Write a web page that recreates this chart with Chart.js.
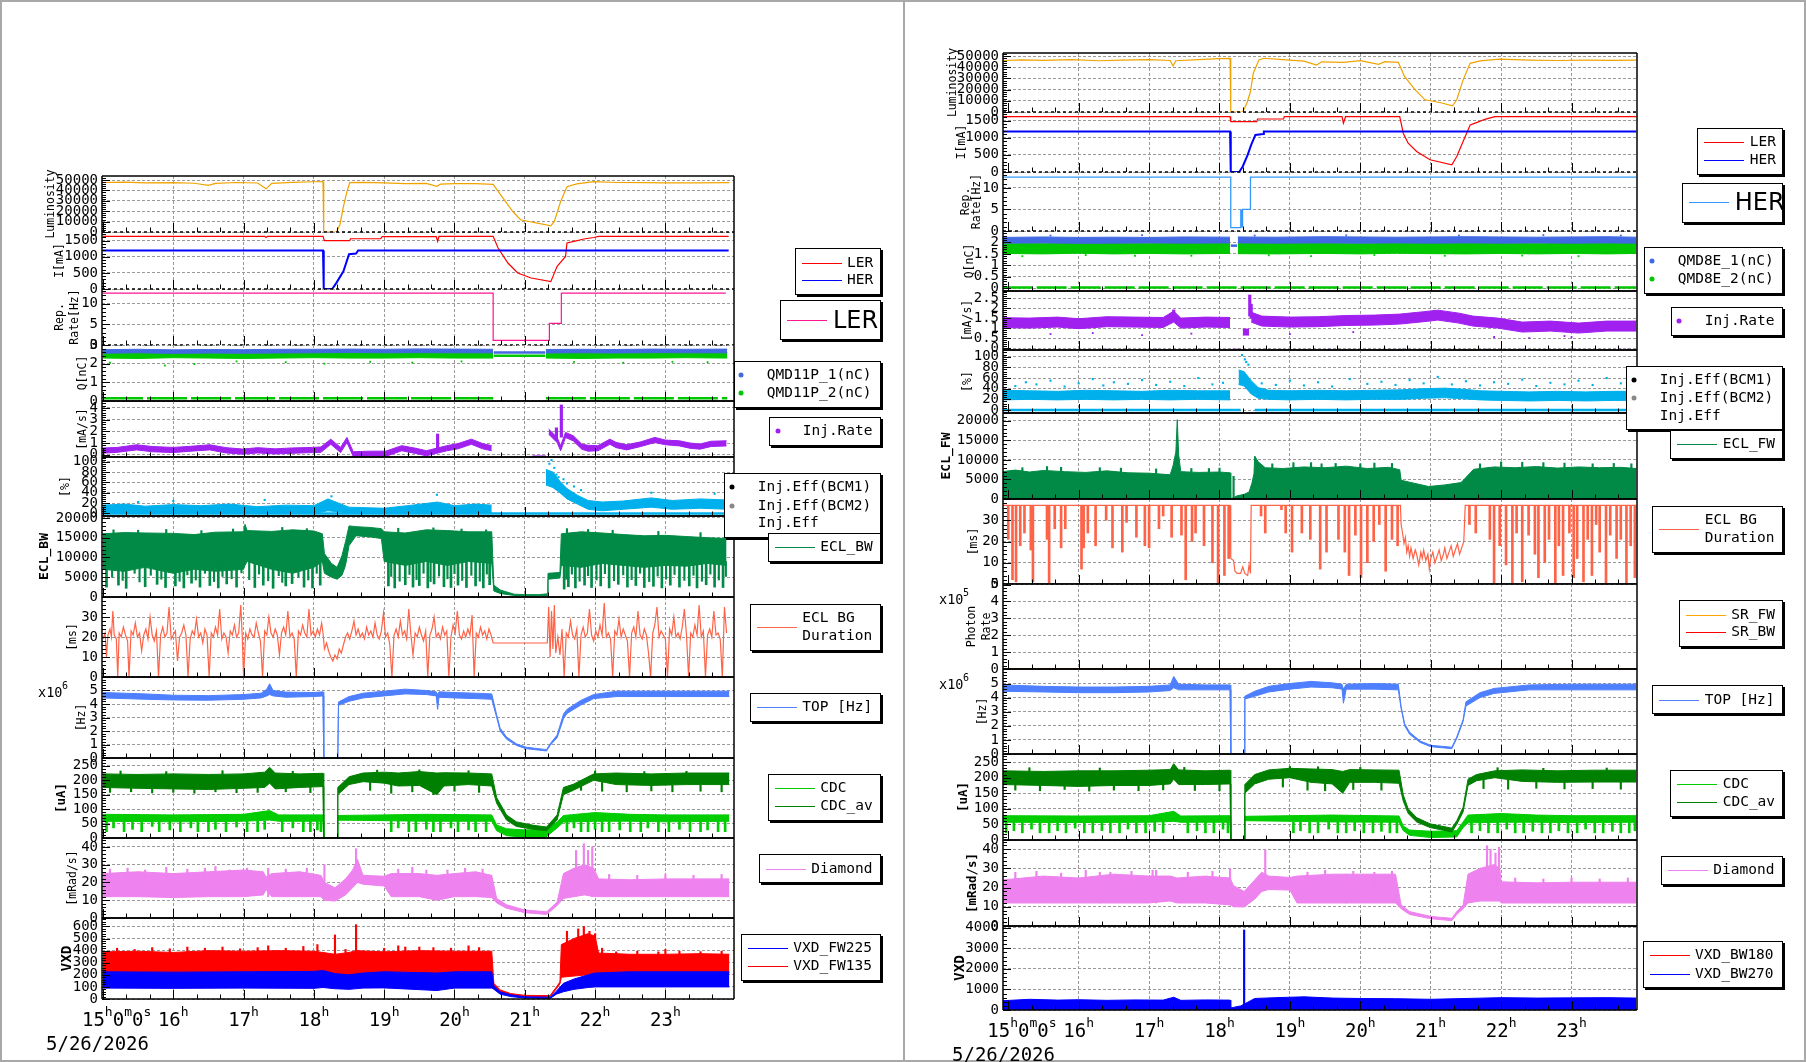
<!DOCTYPE html>
<html>
<head>
<meta charset="utf-8">
<script src="https://cdn.jsdelivr.net/npm/chart.js@4.4.1/dist/chart.umd.min.js"></script>
<style>
  body { margin: 0; background: #fff; width: 1806px; height: 1062px; position: relative; overflow: hidden; font-family: 'DejaVu Sans Mono', monospace; }
  canvas { position: absolute; }
  .frame { position: absolute; border: 2px solid #a8a8a8; box-sizing: border-box; }
  .leg { position: absolute; background: #fff; border: 1px solid #000; box-shadow: 2px 2px 0 #000; box-sizing: border-box; }
  .leg span { position: absolute; font-size: 14.5px; line-height: 1; white-space: pre; transform: translateY(-52%); color: #000; }
  .leg i { position: absolute; height: 1px; }
  .leg b { position: absolute; width: 5px; height: 5px; border-radius: 50%; transform: translate(-50%, -50%); }
</style>
</head>
<body>
<div class="frame" style="left:0;top:0;width:905px;height:1062px"></div>
<div class="frame" style="left:903px;top:0;width:903px;height:1062px"></div>
<script>
// ---------------- data (hours, values) ----------------
const hourGrid = [16, 17, 18, 19, 20, 21, 22, 23];
const hourTicks = [15, 16, 17, 18, 19, 20, 21, 22, 23];
const dateLabel = '5/26/2026';

// ===== left column (LER) =====
const lumL = [[15.0,47600],[15.3,47900],[15.6,47200],[16.0,47400],[16.3,46900],[16.5,44900],[16.6,46800],[16.9,47600],[17.2,47100],[17.32,41500],[17.4,46800],[17.7,47800],[18.0,48300],[18.13,48400],[18.14,0],[18.32,0],[18.37,7000],[18.42,24500],[18.47,38800],[18.51,47400],[18.7,47800],[19.0,47300],[19.3,46500],[19.6,46800],[19.75,44000],[19.8,46000],[20.0,46500],[20.3,46600],[20.55,45800],[20.69,32500],[20.83,19700],[20.94,11800],[21.06,10100],[21.18,8600],[21.37,6000],[21.42,10100],[21.51,29300],[21.6,43600],[21.74,46200],[21.98,48400],[22.3,47600],[22.7,47500],[23.0,47300],[23.4,47200],[23.91,47400]];
const lerL = [[15.0,1634],[17.3,1634],[17.32,1600],[17.34,1634],[18.13,1634],[18.15,1500],[18.51,1500],[18.52,1560],[18.95,1560],[18.97,1628],[19.74,1628],[19.76,1480],[19.78,1634],[20.55,1634],[20.62,1273],[20.76,807],[20.9,497],[21.09,342],[21.37,227],[21.46,702],[21.58,1012],[21.6,1428],[21.7,1480],[21.84,1553],[21.98,1600],[22.05,1634],[23.9,1634]];
const herL = [[15.0,1195],[18.13,1195],[18.14,0],[18.26,0],[18.32,190],[18.42,550],[18.5,1080],[18.6,1100],[18.63,1195],[23.9,1195]];
const repLER = [[15.0,12.5],[20.55,12.5],[20.55,1.1],[21.35,1.1],[21.35,5.2],[21.52,5.2],[21.52,12.5],[23.86,12.5]];
const q1L = [[15.0,2.56,2.75],[15.5,2.58,2.77],[16.0,2.55,2.74],[16.5,2.57,2.76],[17.0,2.56,2.75],[17.5,2.57,2.77],[18.0,2.58,2.77],[18.5,2.6,2.78],[19.0,2.58,2.77],[19.5,2.59,2.79],[20.0,2.58,2.78],[20.55,2.58,2.77],[20.56,null,null],[21.3,2.57,2.76],[21.8,2.58,2.77],[22.3,2.57,2.76],[22.8,2.59,2.78],[23.3,2.58,2.77],[23.88,2.58,2.78]];
const q2L = [[15.0,2.3,2.58],[15.5,2.28,2.6],[16.0,2.32,2.58],[16.5,2.3,2.6],[17.0,2.28,2.58],[17.5,2.3,2.6],[18.0,2.32,2.6],[18.5,2.3,2.62],[19.0,2.3,2.6],[19.5,2.32,2.62],[20.0,2.3,2.6],[20.55,2.3,2.6],[20.56,null,null],[21.3,2.3,2.6],[21.8,2.28,2.6],[22.3,2.3,2.58],[22.8,2.3,2.6],[23.3,2.32,2.6],[23.88,2.3,2.6]];
const q1Lflat = [[20.56,2.6],[21.29,2.6]];
const q2Lflat = [[20.56,2.42],[21.29,2.42]];
const q2Lout = [[15.1,2.05],[15.88,1.9],[16.3,1.98],[16.9,2.12],[17.6,2.08],[18.15,2.0],[18.8,2.1],[19.4,2.06],[20.1,2.12],[21.7,2.1],[22.4,2.05],[23.1,2.1],[23.6,2.08]];
const q2Llow = [[15.0,0.15],[20.55,0.15],[20.56,null],[21.3,0.15],[23.88,0.15]];
const rateL = [[15.0,0.13,0.57],[15.2,0.2,0.62],[15.48,0.41,0.85],[15.7,0.25,0.7],[16.0,0.18,0.62],[16.25,0.3,0.72],[16.52,0.41,0.85],[16.75,0.15,0.6],[16.99,0.04,0.48],[17.2,0.15,0.6],[17.45,0.06,0.5],[17.7,0.12,0.58],[17.98,0.18,0.62],[18.1,0.2,0.66],[18.24,0.89,1.33],[18.38,0.18,0.62],[18.47,1.04,1.48],[18.56,-0.15,0.25],[18.8,-0.15,0.3],[19.02,-0.15,0.3],[19.25,0.33,0.77],[19.45,0.1,0.55],[19.6,-0.1,0.34],[19.89,0.33,0.77],[20.05,0.5,0.95],[20.24,0.89,1.33],[20.4,0.5,0.95],[20.53,0.33,0.77],[20.54,null,null],[21.34,1.75,2.19],[21.46,1.04,1.48],[21.51,0.33,0.77],[21.58,1.47,1.91],[21.69,1.18,1.62],[21.81,0.47,0.91],[21.9,0.3,0.8],[22.04,0.33,0.77],[22.21,0.89,1.33],[22.3,0.6,1.05],[22.45,0.41,0.85],[22.65,0.7,1.1],[22.85,1.04,1.48],[23.0,0.85,1.25],[23.2,0.75,1.19],[23.35,0.55,1.0],[23.49,0.47,0.91],[23.65,0.7,1.15],[23.87,0.75,1.19]];
const rateLgap = [[21.11,-0.15],[21.3,-0.15]];
const rateLspk = [[19.76,0.5,1.77],[21.52,1.5,4.26],[21.45,1.2,2.3]];
const effL = [[15.0,0,16],[15.3,1,18],[15.6,0,14],[16.0,1,17],[16.4,0,15],[16.8,1,18],[17.2,0,13],[17.6,1,16],[18.0,0,15],[18.2,5,28],[18.35,3,20],[18.5,0,12],[19.0,0,10],[19.4,1,16],[19.76,2,22],[20.0,1,15],[20.3,2,18],[20.53,1,16],[20.54,null,null],[21.3,55,85],[21.4,50,80],[21.5,40,62],[21.6,28,48],[21.75,18,35],[21.9,8,25],[22.1,5,22],[22.4,8,24],[22.8,12,30],[23.1,8,25],[23.5,10,28],[23.88,8,26]];
const effLout = [[21.35,96],[21.38,103],[21.42,88],[21.45,75],[21.48,70],[21.55,66],[21.6,58],[21.7,52],[21.8,45],[19.75,36],[18.25,33],[22.8,40],[23.7,38],[16.0,24],[17.3,26],[15.5,22]];
const effLbase = [[15.0,0],[23.88,0]];
const eclBW = [[15.0,7000,16000],[15.3,6500,16300],[15.6,7500,16200],[16.0,6000,16100],[16.3,7000,15800],[16.6,6500,16400],[17.0,7000,16500],[17.02,8000,18400],[17.05,9000,16800],[17.4,7000,16600],[17.7,6000,17000],[18.0,7500,16700],[18.12,9000,16000],[18.15,6000,11000],[18.25,5000,8500],[18.33,4500,7500],[18.4,5500,10500],[18.45,8000,14000],[18.5,13000,18000],[18.6,15500,17800],[18.8,15200,17600],[18.96,14800,17300],[19.0,9000,16500],[19.3,8000,16200],[19.6,9000,17000],[19.9,8000,16800],[20.2,9000,16500],[20.53,8500,16500],[20.56,1500,3000],[20.65,900,1800],[20.72,700,1400],[20.85,400,700],[21.0,300,600],[21.2,300,600],[21.32,400,800],[21.33,4500,6000],[21.5,4800,6200],[21.52,8000,16000],[21.8,7500,16500],[22.1,8500,16200],[22.4,8000,15800],[22.7,7500,15500],[23.0,8000,15600],[23.3,7800,15300],[23.6,8500,15000],[23.87,8000,14800]];
const eclBWspk = [[15.05,2500,9000],[15.22,3000,9000],[15.33,2200,9000],[15.6,2600,9000],[15.77,3200,9000],[15.89,2400,9000],[16.03,2800,9000],[16.15,2300,9000],[16.26,3500,9000],[16.38,2500,9000],[16.52,2900,9000],[16.64,2300,9000],[16.76,3300,9000],[16.9,2500,9000],[17.16,2400,9000],[17.28,3000,9000],[17.42,2200,9000],[17.6,2800,9000],[17.69,3400,9000],[17.86,2500,9000],[17.98,2300,9000],[18.09,3000,9000],[19.06,2800,9000],[19.15,2300,9000],[19.3,3100,9000],[19.41,2500,9000],[19.5,2900,9000],[19.62,2300,9000],[19.71,3300,9000],[19.85,2600,9000],[19.95,2400,9000],[20.05,3000,9000],[20.17,2400,9000],[20.3,2800,9000],[20.41,2300,9000],[20.5,3100,9000],[21.56,2000,9000],[21.62,2600,9000],[21.72,2300,9000],[21.85,3000,9000],[21.95,2400,9000],[22.08,2800,9000],[22.2,2300,9000],[22.33,3200,9000],[22.46,2500,9000],[22.58,2900,9000],[22.7,2400,9000],[22.83,2700,9000],[22.95,2300,9000],[23.07,3000,9000],[23.2,2500,9000],[23.34,2800,9000],[23.45,2300,9000],[23.58,3100,9000],[23.7,2500,9000],[23.82,2400,9000]];
const eclBWmid = [[15.13,5000,9000],[15.28,4200,9000],[15.45,6000,9000],[15.52,3800,9000],[15.68,5500,9000],[15.83,4500,9000],[15.95,6200,9000],[16.09,4000,9000],[16.2,5600,9000],[16.32,4300,9000],[16.45,6000,9000],[16.58,3900,9000],[16.7,5200,9000],[16.83,4600,9000],[16.97,6100,9000],[17.08,4400,9000],[17.22,5800,9000],[17.35,4100,9000],[17.5,5400,9000],[17.55,3700,9000],[17.78,5000,9000],[17.92,4300,9000],[18.04,6000,9000],[19.1,5200,9000],[19.22,4000,9000],[19.36,5700,9000],[19.46,4400,9000],[19.56,6000,9000],[19.66,3900,9000],[19.78,5300,9000],[19.9,4600,9000],[20.0,5900,9000],[20.11,4200,9000],[20.24,5500,9000],[20.36,4000,9000],[20.46,5800,9000],[21.59,4500,9000],[21.67,5800,9000],[21.78,4000,9000],[21.9,5400,9000],[22.02,4300,9000],[22.14,5900,9000],[22.27,4100,9000],[22.4,5600,9000],[22.52,4400,9000],[22.64,6000,9000],[22.77,3900,9000],[22.89,5300,9000],[23.01,4500,9000],[23.13,5700,9000],[23.27,4200,9000],[23.4,5500,9000],[23.52,4000,9000],[23.64,5800,9000],[23.76,4300,9000],[23.86,5200,9000]];
const eclBWtop = [[15.15,15000,17000],[15.5,15000,16900],[15.9,15000,17100],[16.4,15000,16800],[16.85,15000,17200],[17.55,15000,17600],[17.9,15000,17300],[19.2,15000,17400],[19.7,15000,17500],[20.1,15000,17200],[20.45,15000,17000],[21.6,15000,17300],[21.9,15000,17100],[22.25,15000,16900],[22.9,15000,16600],[23.5,15000,16300]];
const durL = [[15.0,19],[15.03,22],[15.05,10],[15.07,21],[15.1,24],[15.12,20],[15.14,33],[15.16,21],[15.19,19],[15.21,0],[15.23,22],[15.26,20],[15.29,25],[15.32,21],[15.35,18],[15.37,0],[15.4,23],[15.43,21],[15.46,27],[15.49,20],[15.52,22],[15.55,13],[15.58,21],[15.61,24],[15.64,19],[15.67,30],[15.7,21],[15.73,18],[15.76,23],[15.79,0],[15.82,21],[15.85,25],[15.88,20],[15.91,22],[15.94,35],[15.97,19],[16.0,21],[16.03,23],[16.06,8],[16.09,20],[16.12,22],[16.15,26],[16.18,21],[16.21,0],[16.24,19],[16.27,23],[16.3,21],[16.33,29],[16.36,20],[16.39,22],[16.42,17],[16.45,24],[16.48,21],[16.51,0],[16.54,22],[16.57,20],[16.6,25],[16.63,21],[16.66,34],[16.69,19],[16.72,22],[16.75,20],[16.78,12],[16.81,23],[16.84,21],[16.87,26],[16.9,20],[16.93,22],[16.96,36],[16.98,21],[17.0,0],[17.03,22],[17.06,19],[17.09,24],[17.12,21],[17.15,20],[17.18,27],[17.21,22],[17.24,18],[17.27,0],[17.3,23],[17.33,21],[17.36,30],[17.39,22],[17.42,20],[17.45,24],[17.48,21],[17.51,11],[17.54,22],[17.57,25],[17.6,21],[17.63,33],[17.66,20],[17.69,22],[17.72,19],[17.75,0],[17.78,23],[17.81,21],[17.84,26],[17.87,22],[17.9,20],[17.93,34],[17.96,21],[17.99,23],[18.02,20],[18.05,24],[18.08,21],[18.11,27],[18.13,22],[18.15,14],[18.18,17],[18.21,13],[18.24,10],[18.27,8],[18.3,11],[18.33,9],[18.36,14],[18.39,12],[18.42,16],[18.45,20],[18.48,22],[18.51,19],[18.54,23],[18.57,28],[18.6,21],[18.63,24],[18.66,20],[18.69,22],[18.72,19],[18.75,25],[18.78,21],[18.81,23],[18.84,20],[18.87,27],[18.9,21],[18.93,19],[18.96,23],[18.99,32],[19.02,20],[19.05,22],[19.08,16],[19.11,0],[19.14,21],[19.17,24],[19.2,20],[19.23,28],[19.26,21],[19.29,23],[19.32,19],[19.35,34],[19.38,21],[19.41,11],[19.44,22],[19.47,20],[19.5,25],[19.53,21],[19.56,18],[19.59,23],[19.62,0],[19.65,21],[19.68,24],[19.71,30],[19.74,20],[19.77,22],[19.8,19],[19.83,25],[19.86,21],[19.89,23],[19.92,0],[19.95,20],[19.98,26],[20.01,22],[20.04,33],[20.07,21],[20.1,19],[20.13,23],[20.16,20],[20.19,24],[20.22,21],[20.25,31],[20.28,0],[20.31,22],[20.34,20],[20.37,25],[20.4,21],[20.43,23],[20.46,19],[20.49,24],[20.52,21],[20.55,17],[21.32,17],[21.34,35],[21.36,10],[21.38,33],[21.4,14],[21.42,36],[21.44,12],[21.47,20],[21.5,11],[21.53,24],[21.56,0],[21.59,22],[21.62,20],[21.65,28],[21.68,21],[21.71,19],[21.74,24],[21.77,0],[21.8,21],[21.83,25],[21.86,20],[21.89,22],[21.92,34],[21.95,21],[21.98,18],[22.01,23],[22.04,20],[22.07,26],[22.1,21],[22.13,37],[22.16,20],[22.19,22],[22.22,19],[22.25,0],[22.28,23],[22.31,21],[22.34,29],[22.37,20],[22.4,24],[22.43,21],[22.46,18],[22.49,0],[22.52,22],[22.55,25],[22.58,20],[22.61,33],[22.64,21],[22.67,19],[22.7,24],[22.73,21],[22.76,12],[22.79,0],[22.82,22],[22.85,26],[22.88,35],[22.91,20],[22.94,23],[22.97,21],[23.0,19],[23.03,0],[23.06,24],[23.09,21],[23.12,30],[23.15,20],[23.18,22],[23.21,19],[23.24,25],[23.27,34],[23.3,21],[23.33,0],[23.36,22],[23.39,20],[23.42,26],[23.45,21],[23.48,36],[23.51,20],[23.54,23],[23.57,0],[23.6,21],[23.63,24],[23.66,20],[23.69,33],[23.72,21],[23.75,22],[23.78,19],[23.81,0],[23.84,35],[23.87,22]];
const topL = [[15.0,4.45,4.85],[15.3,4.4,4.8],[15.6,4.35,4.75],[16.0,4.3,4.65],[16.5,4.28,4.62],[17.0,4.35,4.7],[17.25,4.45,4.8],[17.33,4.6,5.1],[17.37,4.7,5.5],[17.42,4.6,5.0],[17.6,4.5,4.88],[18.0,4.55,4.85],[18.13,4.6,4.9],[18.14,0,0],[18.34,0,0],[18.35,3.9,4.15],[18.5,4.2,4.55],[18.7,4.45,4.8],[19.0,4.6,4.95],[19.3,4.75,5.1],[19.6,4.7,5.0],[19.74,4.6,4.9],[19.76,3.6,4.7],[19.78,4.5,4.9],[20.0,4.45,4.85],[20.3,4.4,4.8],[20.53,4.35,4.75],[20.6,3.0,3.2],[20.65,2.0,2.2],[20.74,1.4,1.56],[20.88,0.93,1.05],[21.02,0.69,0.8],[21.31,0.52,0.62],[21.36,0.93,1.05],[21.46,1.5,1.7],[21.55,2.9,3.25],[21.6,3.3,3.6],[21.79,3.9,4.25],[21.98,4.4,4.7],[22.31,4.55,4.95],[23.02,4.55,4.95],[23.91,4.55,4.95]];
const cdcAvL = [[15.0,175,222],[15.5,172,220],[16.0,170,222],[16.5,168,220],[17.0,172,222],[17.3,175,228],[17.37,190,245],[17.45,170,225],[17.8,175,222],[18.13,178,224],[18.14,0,0],[18.33,0,0],[18.34,150,175],[18.5,185,212],[18.7,195,225],[19.0,190,228],[19.2,180,225],[19.5,182,230],[19.75,150,225],[19.85,180,226],[20.2,185,225],[20.53,180,222],[20.6,120,140],[20.74,62,80],[20.88,40,56],[21.12,30,44],[21.31,25,38],[21.46,62,80],[21.55,150,175],[21.69,165,186],[21.98,200,222],[22.3,185,225],[22.8,182,222],[23.3,185,225],[23.91,185,225]];
const cdcAvLspk = [[15.1,158,190],[15.4,160,190],[15.7,156,190],[16.0,158,190],[16.3,155,190],[16.6,160,190],[16.9,157,190],[17.2,158,190],[17.6,160,190],[17.95,157,190],[18.8,165,200],[19.1,155,195],[19.4,160,195],[19.7,150,195],[20.0,162,195],[20.35,158,195],[21.8,165,195],[22.1,162,195],[22.45,160,195],[22.8,163,195],[23.1,160,195],[23.5,162,195],[23.8,160,195],[15.25,210,232],[15.9,210,230],[16.7,210,233],[17.7,210,231],[18.9,210,235],[19.5,210,236],[20.2,210,233],[22.0,210,232],[22.7,210,230],[23.3,210,231]];
const cdcL = [[15.0,58,82],[16.0,56,80],[17.0,58,82],[17.37,62,95],[17.5,58,80],[18.13,58,80],[18.14,0,0],[18.33,0,0],[18.34,62,78],[19.0,60,80],[19.6,58,82],[20.53,58,80],[20.6,25,45],[20.74,8,32],[21.0,3,28],[21.3,3,30],[21.46,35,55],[21.55,55,78],[22.0,58,88],[22.5,58,82],[23.0,56,80],[23.91,58,80]];
const cdcLspk = [[15.05,22,58],[15.15,35,58],[15.3,22,58],[15.42,30,58],[15.55,22,58],[15.7,40,58],[15.8,22,58],[15.95,28,58],[16.1,22,58],[16.25,35,58],[16.35,22,58],[16.5,22,58],[16.6,30,58],[16.75,22,58],[16.9,38,58],[17.05,22,58],[17.2,22,58],[17.3,30,58],[17.55,22,58],[17.7,35,58],[17.85,22,58],[17.95,22,58],[18.05,28,58],[18.1,22,58],[19.1,22,58],[19.2,35,58],[19.35,22,58],[19.45,22,58],[19.6,30,58],[19.7,22,58],[19.8,22,58],[19.95,35,58],[20.05,22,58],[20.2,28,58],[20.3,22,58],[20.45,22,58],[21.6,22,58],[21.7,35,58],[21.8,22,58],[21.9,22,58],[22.0,30,58],[22.1,22,58],[22.2,22,58],[22.35,28,58],[22.5,22,58],[22.65,22,58],[22.75,35,58],[22.9,22,58],[23.05,22,58],[23.2,30,58],[23.35,22,58],[23.5,22,58],[23.6,28,58],[23.75,22,58],[23.85,22,58]];
const diaL = [[15.0,12,25],[15.5,12,26],[16.0,11.5,25],[16.5,12,26],[17.0,12,27],[17.28,13,26],[17.32,16,23],[17.4,12,25],[17.8,12,26],[18.1,12,24],[18.15,10,20],[18.3,9.5,17],[18.45,13,22],[18.55,17,27],[18.62,20,33],[18.7,19,24],[19.0,18,23.5],[19.1,12,25],[19.5,12,25],[19.75,10,24],[20.0,12,25],[20.3,12,26],[20.53,11.5,24],[20.6,8.5,11],[20.74,5.5,7.5],[21.0,3,4.5],[21.31,2,3.5],[21.46,7,9],[21.55,11,25],[21.7,12,28],[21.85,13,30],[21.98,12,28],[22.05,12,22],[22.5,12,21.5],[23.0,12,22],[23.91,12,22]];
const diaLspk = [[18.6,20,39],[21.73,20,38],[21.84,20,41.8],[21.9,20,38],[21.96,20,40],[18.15,12,30],[17.35,12,28],[16.45,12,28],[19.6,12,27],[15.1,20,27.5],[15.35,20,28],[15.6,20,27],[15.9,20,28.5],[16.2,20,27.5],[16.6,20,29],[16.8,20,27],[17.05,20,28],[17.6,20,27.5],[17.9,20,28],[19.2,20,27.5],[19.4,20,28.5],[19.9,20,27],[20.15,20,28],[20.4,20,27.5],[22.2,18,24.5],[22.6,18,24],[23.0,18,24.5],[23.4,18,24],[23.8,18,24.5]];
const vxdRL = [[15.0,200,390],[15.5,200,395],[16.0,200,385],[16.5,200,400],[17.0,200,395],[17.5,200,400],[18.0,200,395],[18.13,205,385],[18.3,180,370],[18.5,175,385],[18.6,200,400],[19.0,205,390],[19.5,205,400],[20.0,200,395],[20.53,200,395],[20.56,110,130],[20.65,60,75],[20.8,35,45],[21.0,22,30],[21.36,20,28],[21.45,85,100],[21.5,125,140],[21.52,180,450],[21.7,190,500],[21.9,200,540],[22.0,210,520],[22.05,215,380],[22.5,215,370],[23.0,215,370],[23.5,215,375],[23.91,215,370]];
const vxdRLspk = [[16.2,300,430],[17.35,300,440],[18.05,300,450],[18.3,300,530],[18.6,300,615],[19.2,300,440],[19.5,300,430],[20.2,300,440],[21.6,300,560],[21.76,300,580],[21.84,300,600],[21.92,300,560],[22.0,300,540],[22.1,300,420],[23.0,300,410],[15.2,300,420],[15.45,300,410],[15.7,300,425],[15.95,300,415],[16.45,300,420],[16.7,300,430],[16.95,300,415],[17.2,300,425],[17.6,300,420],[17.85,300,435],[18.45,300,410],[19.0,300,420],[19.3,300,430],[19.7,300,425],[19.95,300,420],[20.35,300,425],[22.3,300,390],[22.6,300,395],[22.9,300,390],[23.2,300,395],[23.5,300,392],[23.8,300,395]];
const vxdBL = [[15.0,90,225],[16.0,88,222],[17.0,90,225],[18.0,88,228],[18.13,95,235],[18.3,85,210],[18.5,80,200],[18.7,90,215],[19.0,92,225],[19.75,70,215],[20.0,90,225],[20.53,90,225],[20.56,80,110],[20.65,40,60],[20.8,20,35],[21.0,8,18],[21.36,5,15],[21.45,40,65],[21.55,60,130],[21.7,80,165],[21.9,95,200],[22.0,100,215],[22.5,100,225],[23.0,100,225],[23.91,100,225]];

// ===== right column (HER) =====
const lumR = [[14.92,46000],[15.2,46500],[15.5,46200],[15.9,46800],[16.3,45800],[16.6,46300],[17.0,46800],[17.3,46000],[17.34,41100],[17.38,45800],[17.7,46800],[18.0,47700],[18.15,47900],[18.16,0],[18.33,0],[18.39,8000],[18.44,18300],[18.48,34600],[18.56,46400],[18.63,48000],[18.9,46800],[19.2,45500],[19.38,42000],[19.45,44800],[19.76,44300],[20.0,45800],[20.26,42600],[20.35,45000],[20.54,44300],[20.63,31600],[20.78,19800],[20.92,10900],[21.13,8500],[21.31,5600],[21.37,10900],[21.46,28700],[21.56,43500],[21.7,45600],[21.98,47300],[22.4,46400],[22.8,46000],[23.2,46300],[23.6,46100],[23.92,46300]];
const lerR = [[14.92,1613],[18.15,1613],[18.16,1468],[18.53,1468],[18.54,1546],[18.91,1546],[18.92,1613],[19.74,1613],[19.76,1421],[19.79,1613],[20.56,1613],[20.61,1131],[20.68,841],[20.8,598],[20.99,357],[21.3,212],[21.37,453],[21.46,888],[21.53,1227],[21.56,1372],[21.65,1441],[21.77,1537],[21.91,1613],[23.92,1613]];
const herR = [[14.92,1178],[18.15,1178],[18.16,0],[18.28,0],[18.33,162],[18.4,502],[18.45,792],[18.51,1082],[18.62,1111],[18.63,1178],[23.92,1178]];
const repHER = [[14.92,12.5],[18.16,12.5],[18.16,0.8],[18.3,0.8],[18.3,5],[18.305,0.8],[18.31,5],[18.315,0.8],[18.32,5],[18.325,0.8],[18.33,5],[18.44,5],[18.44,12.5],[23.92,12.5]];
const q1R = [[14.92,1.97,2.22],[15.5,1.98,2.24],[16.0,1.96,2.22],[16.5,1.97,2.23],[17.0,1.98,2.22],[17.5,1.97,2.24],[18.15,1.98,2.23],[18.16,null,null],[18.26,1.98,2.24],[18.8,1.97,2.23],[19.5,1.98,2.25],[20.0,1.97,2.24],[20.5,1.98,2.23],[21.0,1.97,2.24],[21.5,1.98,2.25],[22.0,1.97,2.24],[22.5,1.98,2.23],[23.0,1.97,2.24],[23.5,1.98,2.25],[23.92,1.97,2.23]];
const q2R = [[14.92,1.52,1.98],[15.5,1.5,1.97],[16.0,1.53,1.99],[16.5,1.5,1.98],[17.0,1.52,1.97],[17.5,1.5,1.99],[18.15,1.52,1.98],[18.16,null,null],[18.26,1.51,1.98],[18.8,1.5,1.99],[19.5,1.52,1.98],[20.0,1.5,1.97],[20.5,1.53,1.99],[21.0,1.51,1.98],[21.5,1.5,1.99],[22.0,1.52,1.98],[22.5,1.5,1.97],[23.0,1.52,1.99],[23.5,1.5,1.98],[23.92,1.52,1.98]];
const q1Rflat = [[18.16,1.86],[18.25,1.86]];
const q2Rout = [[15.2,1.4],[16.1,1.45],[16.8,1.42],[17.6,1.42],[18.7,1.44],[19.3,1.4],[20.2,1.45],[21.2,1.42],[22.3,1.43],[23.1,1.4]];
const q1Rout = [[15.6,2.3],[16.9,2.32],[18.5,2.3],[19.8,2.31],[21.4,2.3],[22.6,2.32],[23.7,2.3]];
const q2Rlow = [[14.92,0.03],[23.92,0.03]];
const rateR = [[14.92,1.02,1.52],[15.3,1.0,1.5],[15.7,1.05,1.55],[16.0,0.97,1.47],[16.4,1.07,1.57],[16.8,1.05,1.55],[17.2,1.03,1.53],[17.35,1.3,1.85],[17.45,1.0,1.5],[17.8,1.05,1.55],[18.15,1.03,1.53],[18.16,null,null],[18.33,0.65,0.95],[18.42,0.65,0.95],[18.43,null,null],[18.45,1.3,1.8],[18.6,1.1,1.6],[19.0,1.05,1.55],[19.4,1.07,1.57],[19.8,1.13,1.63],[20.2,1.15,1.65],[20.56,1.2,1.7],[20.9,1.32,1.82],[21.1,1.4,1.9],[21.4,1.25,1.75],[21.6,1.1,1.6],[21.95,1.0,1.5],[22.3,0.8,1.3],[22.7,0.85,1.35],[23.1,0.75,1.25],[23.5,0.85,1.35],[23.92,0.85,1.35]];
const rateRspk = [[18.43,1.6,2.66],[18.45,1.5,2.2],[17.35,1.4,1.91]];
const rateRout = [[15.6,0.7],[16.2,0.75],[16.9,0.65],[17.6,0.72],[19.0,0.7],[19.9,0.8],[21.9,0.55],[22.4,0.5],[23.0,0.55],[22.9,0.6],[18.2,-0.08],[18.25,-0.08],[18.28,-0.08],[17.1,-0.08],[19.55,-0.08],[20.6,-0.08],[21.8,-0.08],[22.3,-0.08],[23.7,-0.08],[23.8,-0.08],[16.4,-0.08]];
const effR = [[14.92,19,37],[15.3,20,36],[15.7,19,35],[16.1,20,37],[16.5,19,36],[16.9,20,35],[17.3,19,37],[17.7,20,36],[18.15,19,36],[18.16,null,null],[18.27,48,75],[18.35,45,72],[18.45,30,55],[18.55,22,42],[18.7,20,37],[19.0,19,36],[19.4,20,37],[19.8,19,36],[20.2,20,37],[20.6,20,38],[20.9,22,40],[21.2,23,41],[21.46,21,39],[21.7,19,36],[22.0,18,35],[22.4,17,34],[22.8,18,35],[23.2,17,34],[23.6,18,35],[23.92,18,35]];
const effRout = [[15.1,45],[15.25,52],[15.4,48],[15.6,55],[15.8,44],[16.0,50],[16.2,58],[16.35,46],[16.5,52],[16.7,49],[16.9,56],[17.1,47],[17.3,53],[17.5,45],[17.7,60],[17.9,48],[18.05,51],[18.32,103],[18.36,95],[18.38,90],[18.41,85],[18.6,50],[18.8,47],[19.0,55],[19.2,46],[19.4,52],[19.6,44],[19.85,58],[20.1,49],[20.3,53],[20.5,47],[20.7,56],[20.9,50],[21.1,62],[21.3,48],[21.5,54],[21.7,46],[21.9,52],[22.1,49],[22.3,57],[22.5,45],[22.7,51],[22.9,48],[23.1,55],[23.3,47],[23.5,60],[23.7,50],[23.85,53]];
const effRbase = [[14.92,0],[18.3,0],[18.31,null],[18.5,0],[23.92,0]];
const eclFW = [[14.92,7000],[15.1,7400],[15.3,6900],[15.5,7300],[15.8,7000],[16.1,6800],[16.4,7200],[16.7,6700],[17.0,6600],[17.3,6200],[17.34,8500],[17.38,12000],[17.4,20300],[17.42,11300],[17.45,7000],[17.7,6800],[18.0,6900],[18.15,6700],[18.16,0],[18.25,800],[18.35,1200],[18.42,1800],[18.46,4000],[18.49,6500],[18.5,11000],[18.55,9500],[18.65,8000],[18.9,7800],[19.2,8200],[19.5,8000],[19.8,8400],[20.1,7800],[20.4,8100],[20.56,7500],[20.58,4800],[20.7,4300],[20.97,3200],[21.2,3600],[21.43,4200],[21.5,5500],[21.61,7600],[21.9,8200],[22.2,8000],[22.5,8300],[22.8,7900],[23.1,8200],[23.4,8000],[23.7,8100],[23.92,7800]];
const eclFWspk = [[18.2,0,5800],[15.55,0,8300],[16.3,0,8000],[17.85,0,7800],[19.05,0,9300],[19.45,0,9000],[20.2,0,9200],[22.0,0,9500],[22.6,0,9300],[23.3,0,9000],[15.2,0,8000],[15.75,0,8100],[16.6,0,7900],[17.1,0,7700],[17.6,0,7800],[18.0,0,7900],[18.75,0,9000],[19.3,0,9300],[19.65,0,9100],[20.0,0,9000],[20.45,0,9100],[21.7,0,9000],[22.3,0,9400],[22.9,0,9200],[23.6,0,9100],[23.85,0,9000]];
const durRbase = [[14.925,37],[18.15,37],[18.16,12],[18.2,11],[18.22,6],[18.25,5],[18.3,5],[18.33,8],[18.36,5],[18.4,4],[18.42,9],[18.44,5],[18.45,37],[20.57,37],[20.58,28],[20.6,24],[20.62,19],[20.64,22],[20.66,15],[20.68,18],[20.7,13],[20.72,17],[20.75,12],[20.78,16],[20.8,14],[20.83,9],[20.86,15],[20.88,12],[20.9,16],[20.93,11],[20.96,14],[20.98,7],[21.0,12],[21.03,15],[21.06,10],[21.09,13],[21.12,16],[21.15,11],[21.18,14],[21.2,17],[21.23,12],[21.26,15],[21.29,18],[21.32,13],[21.35,16],[21.38,19],[21.41,14],[21.44,17],[21.47,20],[21.49,37],[23.92,37]];
const durRspk = [[15.0,21,37],[15.06,2,37],[15.11,1,37],[15.17,18,37],[15.23,24,37],[15.32,16,37],[15.35,1,37],[15.55,21,37],[15.58,0,37],[15.66,26,37],[15.75,17,37],[15.81,26,37],[16.04,7,37],[16.07,17,37],[16.13,24,37],[16.24,18,37],[16.39,30,37],[16.48,17,37],[16.62,15,37],[16.68,29,37],[16.82,22,37],[16.94,18,37],[17.0,17,37],[17.14,26,37],[17.2,32,37],[17.32,22,37],[17.46,23,37],[17.52,2,37],[17.61,20,37],[17.66,24,37],[17.78,18,37],[17.9,10,37],[17.98,0,37],[18.07,4,37],[18.13,12,37],[18.59,32,37],[18.65,24,37],[18.88,35,37],[18.94,24,37],[19.03,15,37],[19.17,24,37],[19.29,21,37],[19.43,7,37],[19.52,15,37],[19.69,21,37],[19.78,15,37],[19.84,4,37],[19.93,23,37],[20.01,3,37],[20.1,10,37],[20.19,20,37],[20.27,28,37],[20.36,6,37],[20.45,21,37],[20.53,18,37],[21.55,28,37],[21.64,24,37],[21.84,21,37],[21.9,0,37],[21.98,18,37],[22.07,9,37],[22.16,0,37],[22.22,24,37],[22.3,1,37],[22.39,23,37],[22.48,14,37],[22.53,3,37],[22.62,10,37],[22.68,21,37],[22.77,0,37],[22.82,18,37],[22.88,4,37],[22.97,24,37],[23.03,3,37],[23.08,12,37],[23.17,1,37],[23.23,21,37],[23.29,4,37],[23.35,28,37],[23.4,15,37],[23.49,0,37],[23.55,23,37],[23.64,12,37],[23.7,21,37],[23.78,0,37],[23.84,18,37],[23.9,3,37]];
const srBW = [[14.92,0],[23.92,0]];
const srFW = [[14.92,0],[23.92,0]];
const topR = [[14.92,4.45,4.9],[15.5,4.4,4.8],[16.0,4.35,4.75],[16.5,4.35,4.75],[17.0,4.4,4.8],[17.3,4.5,4.9],[17.35,4.7,5.5],[17.42,4.55,4.95],[17.8,4.55,4.9],[18.15,4.55,4.9],[18.16,0,0],[18.35,0,0],[18.36,3.9,4.1],[18.5,4.1,4.45],[18.7,4.4,4.8],[19.0,4.6,5.0],[19.3,4.75,5.15],[19.6,4.7,5.05],[19.74,4.6,4.95],[19.76,3.6,4.6],[19.8,4.6,4.95],[20.2,4.6,5.0],[20.54,4.55,4.95],[20.58,3.2,3.35],[20.63,2.0,2.15],[20.7,1.4,1.55],[20.85,0.82,0.92],[21.0,0.52,0.62],[21.3,0.38,0.48],[21.37,1.1,1.22],[21.46,2.3,2.45],[21.5,3.4,3.7],[21.7,4.0,4.35],[21.9,4.3,4.65],[22.4,4.55,4.9],[23.0,4.55,4.95],[23.92,4.55,4.95]];
const cdcAvR = [[14.92,178,222],[15.5,175,220],[16.0,172,222],[16.5,175,222],[17.0,175,224],[17.3,180,226],[17.35,195,245],[17.42,178,225],[17.8,178,222],[18.15,180,224],[18.16,0,0],[18.35,0,0],[18.36,150,178],[18.5,180,210],[18.7,195,225],[19.0,200,230],[19.3,185,228],[19.6,180,226],[19.75,150,220],[19.85,185,226],[20.2,185,225],[20.55,182,224],[20.61,125,145],[20.68,85,100],[20.8,58,72],[20.99,40,52],[21.3,26,38],[21.37,50,62],[21.46,90,105],[21.53,175,195],[21.65,190,210],[21.91,200,222],[22.3,188,225],[22.8,185,222],[23.3,186,224],[23.92,186,224]];
const cdcAvRspk = [[15.1,160,190],[15.45,158,190],[15.8,162,190],[16.15,157,190],[16.5,160,190],[16.85,158,190],[17.2,161,190],[17.65,159,190],[18.0,158,190],[18.9,170,200],[19.25,160,195],[19.5,158,195],[19.9,162,195],[20.3,160,195],[21.75,165,195],[22.1,163,195],[22.5,166,195],[22.9,164,195],[23.3,165,195],[23.7,163,195],[15.3,210,232],[16.3,210,231],[17.5,210,233],[19.0,210,236],[19.4,210,235],[20.0,210,233],[21.95,210,232],[22.6,210,230],[23.5,210,231]];
const cdcR = [[14.92,57,78],[16.0,56,77],[17.0,57,78],[17.35,60,92],[17.45,57,77],[18.15,57,78],[18.16,0,0],[18.35,0,0],[18.36,62,76],[19.0,60,78],[19.6,58,80],[20.55,57,77],[20.61,30,45],[20.7,15,32],[21.0,8,28],[21.37,10,30],[21.46,40,58],[21.53,55,80],[22.0,57,85],[22.5,57,80],[23.0,56,78],[23.92,57,78]];
const cdcRspk = [[14.97,23,57],[15.08,30,57],[15.2,23,57],[15.33,35,57],[15.45,23,57],[15.58,23,57],[15.7,30,57],[15.82,23,57],[15.95,38,57],[16.08,23,57],[16.2,23,57],[16.33,30,57],[16.45,23,57],[16.58,23,57],[16.7,35,57],[16.82,23,57],[16.95,23,57],[17.08,28,57],[17.2,23,57],[17.55,23,57],[17.68,30,57],[17.8,23,57],[17.92,23,57],[18.05,35,57],[18.12,23,57],[19.05,23,57],[19.15,30,57],[19.28,23,57],[19.4,23,57],[19.55,35,57],[19.68,23,57],[19.8,23,57],[19.92,30,57],[20.05,23,57],[20.18,23,57],[20.3,28,57],[20.42,23,57],[20.52,23,57],[21.58,23,57],[21.7,30,57],[21.82,23,57],[21.95,23,57],[22.08,35,57],[22.2,23,57],[22.32,23,57],[22.45,28,57],[22.58,23,57],[22.7,23,57],[22.82,30,57],[22.95,23,57],[23.08,23,57],[23.2,35,57],[23.33,23,57],[23.45,23,57],[23.58,28,57],[23.7,23,57],[23.82,23,57],[23.9,30,57]];
const diaR = [[14.92,12,24],[15.5,12,26],[16.0,12,25],[16.5,12,27],[17.0,12,26],[17.3,13,26],[17.4,12,25],[17.8,12,26],[18.15,11,25],[18.2,10,21],[18.35,9.9,18],[18.5,14,24],[18.6,18,28],[18.7,19,26],[19.0,18.7,25.3],[19.1,12,26],[19.6,12,27],[20.0,12,27],[20.5,12,27],[20.58,9,11],[20.7,6,7.5],[21.0,3.8,5],[21.3,2.8,4],[21.37,6,7.5],[21.46,9,11],[21.53,12,27],[21.7,13,30],[21.9,13,32],[21.98,13,30],[22.0,12,23],[22.5,12,22.5],[23.0,12,22.8],[23.92,12,22.8]];
const diaRspk = [[18.65,20,39.6],[21.8,20,41.8],[21.85,20,40],[21.92,20,38],[21.97,20,41],[18.15,12,30],[19.8,12,27],[17.1,12,29],[16.3,12,28],[15.1,20,28],[15.4,20,28.5],[15.75,20,27.5],[16.1,20,29],[16.45,20,28],[16.75,20,28.5],[17.05,20,29],[17.55,20,28],[17.9,20,28.5],[19.25,20,28],[19.5,20,29],[19.9,20,28.5],[20.2,20,28],[20.45,20,28.5],[22.2,18,25],[22.6,18,24.5],[23.0,18,25],[23.4,18,24.5],[23.8,18,25]];
const vxdBR = [[14.92,450],[15.3,520],[15.7,480],[16.0,500],[16.4,470],[16.8,490],[17.2,480],[17.35,620],[17.45,470],[17.8,490],[18.15,480],[18.16,100],[18.3,200],[18.36,300],[18.5,560],[18.8,600],[19.2,640],[19.6,580],[20.0,560],[20.5,550],[21.0,520],[21.5,560],[22.0,600],[22.5,580],[23.0,590],[23.5,600],[23.92,580]];
const vxdBRspk = [[18.35,0,3890]];
const vxdRR = [[14.92,60],[23.92,60]];

// ---------------- helpers ----------------
const GRID = '#9a9a9a';
const MONO = '"DejaVu Sans Mono"';
const L = { left: 102, right: 734, xMin: 14.986, xMax: 23.976, dateDx: -56 };
const R = { left: 1003, right: 1637, xMin: 14.925, xMax: 23.93, dateDx: -51 };

function xy(a, k) { return a.map(p => ({ x: p[0], y: p[k] === null ? null : p[k] })); }
function line(a, color, w, extra) {
  return Object.assign({ type: 'line', data: xy(a, 1), borderColor: color, borderWidth: w || 1, pointRadius: 0, fill: false, tension: 0, spanGaps: false }, extra || {});
}
// band between lo/hi columns; rows with null split it into segments
function band(a, color) {
  const out = [];
  let seg = [];
  const flush = () => {
    if (seg.length) {
      out.push({ type: 'line', data: xy(seg, 1), borderColor: color, borderWidth: 1, pointRadius: 0, fill: false, tension: 0 });
      out.push({ type: 'line', data: xy(seg, 2), borderColor: color, borderWidth: 1, pointRadius: 0, fill: '-1', backgroundColor: color, tension: 0 });
    }
    seg = [];
  };
  a.forEach(p => { if (p[1] === null) flush(); else seg.push(p); });
  flush();
  return out;
}
function area(a, color) {
  return { type: 'line', data: xy(a, 1), borderColor: color, borderWidth: 1, pointRadius: 0, fill: 'origin', backgroundColor: color, tension: 0 };
}
function spikes(a, color, t) {
  return { type: 'bar', data: a.map(p => ({ x: p[0], y: [p[1], p[2]] })), backgroundColor: color, borderWidth: 0, barThickness: t || 1.5, grouped: false };
}
function dots(a, color, r) {
  return { type: 'line', data: xy(a, 1), showLine: false, pointRadius: r || 1.3, pointStyle: 'rect', pointBackgroundColor: color, pointBorderWidth: 0, borderColor: color };
}
const fmt = v => String(v);

function axesPlugin(p) {
  return {
    id: 'rootAxes',
    afterDatasetsDraw(chart) {
      const { ctx, chartArea: a, scales: { x, y } } = chart;
      const seg = (x1, y1, x2, y2) => { ctx.beginPath(); ctx.moveTo(x1, y1); ctx.lineTo(x2, y2); ctx.stroke(); };
      ctx.save();
      ctx.strokeStyle = '#000';
      ctx.lineWidth = 1;
      // x ticks: majors at hours, minors every 20 min
      for (let m = Math.ceil(p.col.xMin * 3); m <= Math.floor(p.col.xMax * 3); m++) {
        const px = Math.round(x.getPixelForValue(m / 3)) + 0.5;
        seg(px, a.bottom, px, a.bottom - (m % 3 === 0 ? 9 : 4.5));
      }
      // y ticks
      const st = p.yMinor;
      for (let k = Math.ceil(p.yMin / st - 1e-6); k * st <= p.yMax + 1e-9; k++) {
        const py = Math.round(y.getPixelForValue(k * st)) + 0.5;
        const major = p.yTicks.some(t => Math.abs(t - k * st) < st / 10);
        seg(a.left, py, a.left + (major ? 8 : 4), py);
      }
      // frame
      ctx.lineWidth = 1.5;
      seg(a.left, a.top, a.left, a.bottom);
      seg(a.right, a.top, a.right, a.bottom);
      if (!p.openTop) seg(a.left, a.top, a.right, a.top);
      if (p.dashBottom) ctx.setLineDash([3, 3]);
      seg(a.left, a.bottom, a.right, a.bottom);
      ctx.setLineDash([]);
      // rotated axis title
      ctx.fillStyle = '#000';
      ctx.textAlign = 'center';
      ctx.textBaseline = 'middle';
      ctx.font = p.titleFont || ('11.5px ' + MONO);
      const cy = (a.top + a.bottom) / 2;
      p.title.forEach((t, i) => {
        ctx.save();
        ctx.translate(a.left + p.titleX[i], cy);
        ctx.rotate(-Math.PI / 2);
        ctx.fillText(t, 0, 0);
        ctx.restore();
      });
      // x10^n multiplier
      if (p.mult) {
        ctx.textAlign = 'left';
        ctx.textBaseline = 'alphabetic';
        ctx.font = '13.5px ' + MONO;
        ctx.fillText('x10', a.left - 64, a.top + 20);
        ctx.font = '10px ' + MONO;
        ctx.fillText(p.mult, a.left - 40, a.top + 12);
      }
      // time labels under the last panel
      if (p.bottomLabels) {
        const base = a.bottom + 27;
        const BIG = '19px ' + MONO, SUP = '13px ' + MONO;
        ctx.textAlign = 'left';
        ctx.textBaseline = 'alphabetic';
        hourTicks.forEach(h => {
          const parts = h === hourTicks[0] ? [[String(h), 0], ['h', 1], ['0', 0], ['m', 1], ['0', 0], ['s', 1]] : [[String(h), 0], ['h', 1]];
          let tw = 0;
          parts.forEach(q => { ctx.font = q[1] ? SUP : BIG; tw += ctx.measureText(q[0]).width; });
          const px = x.getPixelForValue(h);
          let cx = h === hourTicks[0] ? px - 21 : px - tw / 2;
          parts.forEach(q => {
            ctx.font = q[1] ? SUP : BIG;
            ctx.fillText(q[0], cx, q[1] ? base - 10 : base);
            cx += ctx.measureText(q[0]).width;
          });
        });
        ctx.font = '19px ' + MONO;
        ctx.fillText(dateLabel, a.left + p.col.dateDx, a.bottom + 51);
      }
      ctx.restore();
    }
  };
}

function makePanel(p) {
  const col = p.col;
  const PADL = 100, PADR = 8, PADT = 14, PADB = p.bottomLabels ? 64 : 14;
  const cv = document.createElement('canvas');
  cv.width = (col.right - col.left) + PADL + PADR;
  cv.height = (p.bottom - p.top) + PADT + PADB;
  cv.style.left = (col.left - PADL) + 'px';
  cv.style.top = (p.top - PADT) + 'px';
  document.body.appendChild(cv);
  const ds = p.datasets.map((d, i) => Object.assign({ order: -i }, d));
  new Chart(cv, {
    type: 'line',
    data: { datasets: ds },
    options: {
      responsive: false, animation: false, events: [],
      layout: { padding: { left: 0, right: PADR, top: PADT, bottom: PADB } },
      plugins: { legend: { display: false }, tooltip: { enabled: false } },
      scales: {
        x: {
          type: 'linear', min: col.xMin, max: col.xMax, offset: false,
          afterFit: s => { s.height = 0; },
          afterBuildTicks: s => { s.ticks = hourGrid.map(v => ({ value: v })); },
          ticks: { display: false },
          border: { display: false, dash: [3, 2] },
          grid: { color: GRID, lineWidth: 1, drawTicks: false, offset: false }
        },
        y: {
          type: 'linear', min: p.yMin, max: p.yMax,
          afterFit: s => { s.width = PADL; },
          afterBuildTicks: s => { s.ticks = p.yTicks.map(v => ({ value: v })); },
          ticks: { autoSkip: false, padding: 4, color: '#000', font: { family: 'DejaVu Sans Mono', size: 14 }, callback: v => fmt(v) },
          border: { display: false, dash: [3, 2] },
          grid: { color: GRID, lineWidth: 1, drawTicks: false }
        }
      }
    },
    plugins: [axesPlugin(p)]
  });
}

function addLegend(g) {
  const [bx, by, bw, bh] = g.box;
  const d = document.createElement('div');
  d.className = 'leg';
  d.style.cssText = `left:${bx}px;top:${by}px;width:${bw}px;height:${bh}px`;
  g.rows.forEach(r => {
    if (r.sym === 'line') {
      const i = document.createElement('i');
      i.style.cssText = `left:${g.sx[0] - bx - 1}px;top:${(r.ly || r.y) - by - 1}px;width:${g.sx[1] - g.sx[0]}px;background:${r.color}`;
      d.appendChild(i);
    } else if (r.sym === 'dot') {
      const b = document.createElement('b');
      b.style.cssText = `left:${g.sx[0] - bx - 1}px;top:${r.y - by - 1}px;background:${r.color}`;
      d.appendChild(b);
    }
    const s = document.createElement('span');
    s.textContent = r.text;
    s.style.cssText = `left:${g.tx - bx - 1}px;top:${r.y - by - 1}px` + (g.big ? ';font-family:"DejaVu Sans";font-size:24px' : '');
    d.appendChild(s);
  });
  document.body.appendChild(d);
}

const C = { lum: '#f0a300', ler: '#ff0000', her: '#0000ff', repL: '#ff1493', repR: '#3399ff', q1: '#4169e1', q2: '#00c800', rate: '#a020f0', eff: '#00b0ec', ecl: '#008a45', dur: '#ff6347', top: '#4d7fff', cdc: '#00cc00', cdcav: '#008000', dia: '#ee82ee', vr: '#ff0000', vb: '#0000ff', sr: '#ffa500' };
const BOLD = s => 'bold ' + s + 'px ' + MONO;

// ---------------- left column ----------------
makePanel({ col: L, top: 176, bottom: 232, yMin: 0, yMax: 53850, yTicks: [0, 10000, 20000, 30000, 40000, 50000], yMinor: 2000, title: ['Luminosity'], titleX: [-51], dashBottom: true, datasets: [line(lumL, C.lum, 1.2)] });
makePanel({ col: L, top: 232, bottom: 289, yMin: 0, yMax: 1770, yTicks: [0, 500, 1000, 1500], yMinor: 100, title: ['I[mA]'], titleX: [-42], openTop: true, dashBottom: true, datasets: [line(lerL, C.ler, 1.2), line(herL, C.her, 2)] });
makePanel({ col: L, top: 289, bottom: 345, yMin: 0, yMax: 13.5, yTicks: [0, 5, 10], yMinor: 1, title: ['Rep.', 'Rate[Hz]'], titleX: [-42, -27], openTop: true, dashBottom: true, datasets: [line(repLER, C.repL, 1.2)] });
makePanel({ col: L, top: 345, bottom: 401, yMin: 0, yMax: 3, yTicks: [0, 1, 2, 3], yMinor: 0.2, title: ['Q[nC]'], titleX: [-19], openTop: true, datasets: [...band(q2L, C.q2), ...band(q1L, C.q1), line(q1Lflat, C.q1, 2.5), line(q2Lflat, C.q2, 2.5), dots(q2Lout, C.q2), line(q2Llow, C.q2, 2.5, { borderDash: [40, 4] })] });
makePanel({ col: L, top: 401, bottom: 457, yMin: -0.2, yMax: 4.6, yTicks: [0, 1, 2, 3, 4], yMinor: 0.2, title: ['[mA/s]'], titleX: [-19], datasets: [...band(rateL, C.rate), line(rateLgap, C.rate, 2), spikes(rateLspk, C.rate, 2.5)] });
makePanel({ col: L, top: 457, bottom: 516, yMin: -5, yMax: 109, yTicks: [0, 20, 40, 60, 80, 100], yMinor: 4, title: ['[%]'], titleX: [-36], datasets: [line(effLbase, C.eff, 2.5), ...band(effL, C.eff), dots(effLout, C.eff, 1.5)] });
makePanel({ col: L, top: 516, bottom: 597, yMin: 0, yMax: 20500, yTicks: [0, 5000, 10000, 15000, 20000], yMinor: 1000, title: ['ECL_BW'], titleX: [-57], titleFont: BOLD(13), datasets: [...band(eclBW, C.ecl), spikes(eclBWspk, C.ecl, 2), spikes(eclBWmid, C.ecl, 1.5), spikes(eclBWtop, C.ecl, 1.5)] });
makePanel({ col: L, top: 597, bottom: 677, yMin: 0, yMax: 40, yTicks: [0, 10, 20, 30], yMinor: 2, title: ['[ms]'], titleX: [-29], datasets: [line(durL, C.dur, 1.2)] });
makePanel({ col: L, top: 677, bottom: 758, yMin: 0, yMax: 6, yTicks: [0, 1, 2, 3, 4, 5], yMinor: 0.2, title: ['[Hz]'], titleX: [-20], mult: '6', datasets: [...band(topL, C.top)] });
makePanel({ col: L, top: 758, bottom: 838, yMin: 0, yMax: 277, yTicks: [0, 50, 100, 150, 200, 250], yMinor: 10, title: ['[uA]'], titleX: [-40], titleFont: BOLD(12.5), datasets: [...band(cdcL, C.cdc), spikes(cdcLspk, C.cdc, 2), ...band(cdcAvL, C.cdcav), spikes(cdcAvLspk, C.cdcav, 1.5)] });
makePanel({ col: L, top: 838, bottom: 918, yMin: 0, yMax: 45, yTicks: [0, 10, 20, 30, 40], yMinor: 2, title: ['[mRad/s]'], titleX: [-29], datasets: [...band(diaL, C.dia), spikes(diaLspk, C.dia, 1.5)] });
makePanel({ col: L, top: 918, bottom: 999, yMin: 0, yMax: 670, yTicks: [0, 100, 200, 300, 400, 500, 600], yMinor: 20, title: ['VXD'], titleX: [-35], titleFont: BOLD(14.5), bottomLabels: true, datasets: [...band(vxdRL, C.vr), spikes(vxdRLspk, C.vr, 1.5), ...band(vxdBL, C.vb)] });

// ---------------- right column ----------------
makePanel({ col: R, top: 53, bottom: 112, yMin: 0, yMax: 52700, yTicks: [0, 10000, 20000, 30000, 40000, 50000], yMinor: 2000, title: ['Luminosity'], titleX: [-50], dashBottom: true, datasets: [line(lumR, C.lum, 1.2)] });
makePanel({ col: R, top: 112, bottom: 172, yMin: 0, yMax: 1750, yTicks: [0, 500, 1000, 1500], yMinor: 100, title: ['I[mA]'], titleX: [-41], openTop: true, dashBottom: true, datasets: [line(lerR, C.ler, 1.2), line(herR, C.her, 2)] });
makePanel({ col: R, top: 172, bottom: 231, yMin: 0, yMax: 13.7, yTicks: [0, 5, 10], yMinor: 1, title: ['Rep.', 'Rate[Hz]'], titleX: [-37, -26], openTop: true, dashBottom: true, datasets: [line(repHER, C.repR, 1.3)] });
makePanel({ col: R, top: 231, bottom: 291, yMin: -0.12, yMax: 2.5, yTicks: [0, 0.5, 1, 1.5, 2], yMinor: 0.1, title: ['Q[nC]'], titleX: [-33], openTop: true, datasets: [...band(q2R, C.q2), ...band(q1R, C.q1), line(q1Rflat, C.q1, 2.5), dots(q1Rout, C.q1), dots(q2Rout, C.q2), line(q2Rlow, C.q2, 2.5, { borderDash: [30, 4] })] });
makePanel({ col: R, top: 291, bottom: 350, yMin: -0.1, yMax: 2.86, yTicks: [0, 0.5, 1, 1.5, 2, 2.5], yMinor: 0.1, title: ['[mA/s]'], titleX: [-35], datasets: [...band(rateR, C.rate), spikes(rateRspk, C.rate, 2.5), dots(rateRout, C.rate)] });
makePanel({ col: R, top: 350, bottom: 413, yMin: -5.6, yMax: 112.5, yTicks: [0, 20, 40, 60, 80, 100], yMinor: 4, title: ['[%]'], titleX: [-35], datasets: [line(effRbase, C.eff, 2.5), ...band(effR, C.eff), dots(effRout, C.eff, 1.5)] });
makePanel({ col: R, top: 413, bottom: 499, yMin: 0, yMax: 22000, yTicks: [0, 5000, 10000, 15000, 20000], yMinor: 1000, title: ['ECL_FW'], titleX: [-56], titleFont: BOLD(13), datasets: [area(eclFW, C.ecl), spikes(eclFWspk, C.ecl, 1.5)] });
makePanel({ col: R, top: 499, bottom: 584, yMin: 0, yMax: 40, yTicks: [0, 10, 20, 30], yMinor: 2, title: ['[ms]'], titleX: [-29], datasets: [line(durRbase, C.dur, 1.2), spikes(durRspk, C.dur, 2)] });
makePanel({ col: R, top: 584, bottom: 669, yMin: 0, yMax: 5.03, yTicks: [0, 1, 2, 3, 4, 5], yMinor: 0.2, title: ['Photon', 'Rate'], titleX: [-31, -16], mult: '5', datasets: [line(srBW, C.ler, 1.2), line(srFW, C.sr, 1.5)] });
makePanel({ col: R, top: 669, bottom: 754, yMin: 0, yMax: 6.03, yTicks: [0, 1, 2, 3, 4, 5], yMinor: 0.2, title: ['[Hz]'], titleX: [-20], mult: '6', datasets: [...band(topR, C.top)] });
makePanel({ col: R, top: 754, bottom: 840, yMin: 0, yMax: 276, yTicks: [0, 50, 100, 150, 200, 250], yMinor: 10, title: ['[uA]'], titleX: [-39], titleFont: BOLD(12.5), datasets: [...band(cdcR, C.cdc), spikes(cdcRspk, C.cdc, 2), ...band(cdcAvR, C.cdcav), spikes(cdcAvRspk, C.cdcav, 1.5)] });
makePanel({ col: R, top: 840, bottom: 926, yMin: 0, yMax: 44.8, yTicks: [0, 10, 20, 30, 40], yMinor: 2, title: ['[mRad/s]'], titleX: [-30], titleFont: BOLD(12.5), datasets: [...band(diaR, C.dia), spikes(diaRspk, C.dia, 1.5)] });
makePanel({ col: R, top: 926, bottom: 1010, yMin: 0, yMax: 4083, yTicks: [0, 1000, 2000, 3000, 4000], yMinor: 200, title: ['VXD'], titleX: [-43], titleFont: BOLD(14.5), bottomLabels: true, datasets: [area(vxdRR, C.vr), area(vxdBR, C.vb), spikes(vxdBRspk, C.vb, 1.5)] });

// ---------------- legends ----------------
const legends = [
  { box: [795, 248, 86, 47], sx: [802, 842], tx: 847, rows: [{ y: 262.7, sym: 'line', color: C.ler, text: 'LER' }, { y: 280, sym: 'line', color: C.her, text: 'HER' }] },
  { box: [780, 300, 101, 40], sx: [787, 827], tx: 833, big: true, rows: [{ y: 320, sym: 'line', color: C.repL, text: 'LER' }] },
  { box: [734, 361, 147, 47], sx: [741, 0], tx: 766.7, rows: [{ y: 375, sym: 'dot', color: C.q1, text: 'QMD11P_1(nC)' }, { y: 393.3, sym: 'dot', color: C.q2, text: 'QMD11P_2(nC)' }] },
  { box: [769, 417, 112, 29], sx: [777.7, 0], tx: 802.7, rows: [{ y: 431.3, sym: 'dot', color: C.rate, text: 'Inj.Rate' }] },
  { box: [724, 473, 157, 65], sx: [731.7, 0], tx: 757.7, rows: [{ y: 487.3, sym: 'dot', color: '#000', text: 'Inj.Eff(BCM1)' }, { y: 505.7, sym: 'dot', color: '#888', text: 'Inj.Eff(BCM2)' }, { y: 523.3, text: 'Inj.Eff' }] },
  { box: [768, 533, 113, 29], sx: [775, 815], tx: 820.3, rows: [{ y: 547.3, sym: 'line', color: C.ecl, text: 'ECL_BW' }] },
  { box: [750, 604, 131, 47], sx: [757, 797], tx: 802.3, rows: [{ y: 618.3, ly: 627.3, sym: 'line', color: C.dur, text: 'ECL BG' }, { y: 636.3, text: 'Duration' }] },
  { box: [750, 693, 131, 29], sx: [757, 797], tx: 802.3, rows: [{ y: 707.3, sym: 'line', color: C.top, text: 'TOP [Hz]' }] },
  { box: [768, 774, 113, 47], sx: [775, 815], tx: 820.3, rows: [{ y: 788.3, sym: 'line', color: C.cdc, text: 'CDC' }, { y: 806, sym: 'line', color: C.cdcav, text: 'CDC_av' }] },
  { box: [759, 854, 122, 29], sx: [766, 806], tx: 811.3, rows: [{ y: 868.7, sym: 'line', color: C.dia, text: 'Diamond' }] },
  { box: [741, 934, 140, 47], sx: [748, 788], tx: 793.3, rows: [{ y: 948.3, sym: 'line', color: C.vb, text: 'VXD_FW225' }, { y: 966, sym: 'line', color: C.vr, text: 'VXD_FW135' }] },

  { box: [1697, 128, 86, 47], sx: [1704, 1744], tx: 1749.7, rows: [{ y: 142.3, sym: 'line', color: C.ler, text: 'LER' }, { y: 160.3, sym: 'line', color: C.her, text: 'HER' }] },
  { box: [1682, 183, 101, 40], sx: [1689, 1729], tx: 1734.7, big: true, rows: [{ y: 202.3, sym: 'line', color: C.repR, text: 'HER' }] },
  { box: [1644, 247, 139, 47], sx: [1652.3, 0], tx: 1677.7, rows: [{ y: 261.3, sym: 'dot', color: C.q1, text: 'QMD8E_1(nC)' }, { y: 279.3, sym: 'dot', color: C.q2, text: 'QMD8E_2(nC)' }] },
  { box: [1671, 307, 112, 29], sx: [1679, 0], tx: 1704.7, rows: [{ y: 321.3, sym: 'dot', color: C.rate, text: 'Inj.Rate' }] },
  { box: [1626, 366, 157, 64], sx: [1634, 0], tx: 1659.7, rows: [{ y: 380, sym: 'dot', color: '#000', text: 'Inj.Eff(BCM1)' }, { y: 398, sym: 'dot', color: '#888', text: 'Inj.Eff(BCM2)' }, { y: 416, text: 'Inj.Eff' }] },
  { box: [1670, 430, 113, 29], sx: [1677, 1717], tx: 1722.7, rows: [{ y: 444, sym: 'line', color: C.ecl, text: 'ECL_FW' }] },
  { box: [1652, 506, 131, 47], sx: [1659, 1699], tx: 1704.7, rows: [{ y: 520.3, ly: 529, sym: 'line', color: C.dur, text: 'ECL BG' }, { y: 538, text: 'Duration' }] },
  { box: [1679, 600, 104, 47], sx: [1686, 1726], tx: 1731.3, rows: [{ y: 614.5, sym: 'line', color: C.sr, text: 'SR_FW' }, { y: 632.3, sym: 'line', color: C.ler, text: 'SR_BW' }] },
  { box: [1652, 685, 131, 29], sx: [1659, 1699], tx: 1704.7, rows: [{ y: 699.5, sym: 'line', color: C.top, text: 'TOP [Hz]' }] },
  { box: [1670, 770, 113, 47], sx: [1677, 1717], tx: 1722.7, rows: [{ y: 784.2, sym: 'line', color: C.cdc, text: 'CDC' }, { y: 802, sym: 'line', color: C.cdcav, text: 'CDC_av' }] },
  { box: [1661, 856, 122, 29], sx: [1668, 1708], tx: 1713.3, rows: [{ y: 870, sym: 'line', color: C.dia, text: 'Diamond' }] },
  { box: [1643, 941, 140, 47], sx: [1650, 1690], tx: 1695, rows: [{ y: 955.4, sym: 'line', color: C.vr, text: 'VXD_BW180' }, { y: 973.6, sym: 'line', color: C.vb, text: 'VXD_BW270' }] }
];
legends.forEach(addLegend);
</script>
</body>
</html>
